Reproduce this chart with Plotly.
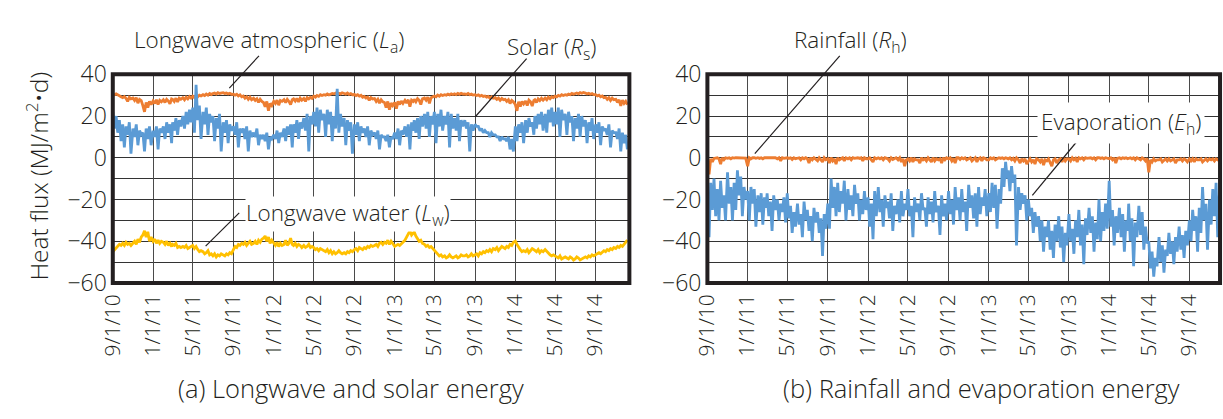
import plotly.graph_objects as go
import pandas as pd

# ---------------- data (6 samples per month: days 1,6,11,16,21,26) ----------------
month_starts = pd.date_range("2010-09-01", "2014-12-01", freq="MS")
day_offsets = [0, 5, 10, 15, 20, 25]

tick_dates = ["2010-09-01", "2011-01-01", "2011-05-01", "2011-09-01", "2012-01-01",
              "2012-05-01", "2012-09-01", "2013-01-01", "2013-05-01", "2013-09-01",
              "2014-01-01", "2014-05-01", "2014-09-01"]
tick_text = ["9/1/10", "1/1/11", "5/1/11", "9/1/11", "1/1/12", "5/1/12", "9/1/12",
             "1/1/13", "5/1/13", "9/1/13", "1/1/14", "5/1/14", "9/1/14"]

# Longwave atmospheric (La)
la_vals = [
    30.5, 30.2, 30.6, 30.0, 29.5, 29.2,   # Sep10
    28.8, 29.3, 28.5, 27.0, 28.9, 28.2,   # Oct10
    28.6, 27.5, 28.8, 26.2, 28.0, 27.4,   # Nov10
    25.0, 22.0, 26.5, 24.0, 27.0, 25.5,   # Dec10
    27.2, 26.0, 27.8, 25.5, 27.5, 26.8,   # Jan11
    27.8, 26.5, 28.0, 27.2, 25.8, 28.2,   # Feb11
    28.0, 27.0, 28.5, 26.8, 28.6, 28.0,   # Mar11
    28.8, 27.8, 29.0, 28.2, 29.3, 28.6,   # Apr11
    29.5, 28.8, 29.8, 29.2, 30.0, 29.6,   # May11
    30.2, 29.8, 30.5, 30.0, 30.8, 30.3,   # Jun11
    30.8, 31.0, 30.5, 31.2, 30.8, 31.0,   # Jul11
    31.2, 30.8, 31.0, 30.6, 30.9, 30.4,   # Aug11
    30.5, 30.0, 30.4, 29.6, 30.1, 29.2,   # Sep11
    29.6, 28.5, 29.2, 28.0, 29.0, 27.8,   # Oct11
    28.5, 27.5, 28.2, 26.5, 28.0, 27.0,   # Nov11
    26.5, 24.5, 27.0, 22.5, 26.0, 25.0,   # Dec11
    27.0, 26.0, 27.6, 25.2, 27.4, 27.0,   # Jan12
    27.8, 26.4, 28.0, 27.0, 25.5, 27.8,   # Feb12
    28.2, 27.2, 28.4, 26.8, 28.6, 27.6,   # Mar12
    28.4, 27.0, 28.8, 28.2, 29.0, 28.5,   # Apr12
    29.5, 29.0, 29.8, 29.4, 30.2, 29.8,   # May12
    30.2, 30.0, 30.6, 30.1, 30.4, 30.8,   # Jun12
    30.6, 31.0, 30.4, 30.9, 30.6, 31.1,   # Jul12
    30.8, 30.5, 31.0, 30.4, 30.7, 30.2,   # Aug12
    30.3, 29.8, 30.2, 29.5, 29.9, 29.0,   # Sep12
    29.4, 28.6, 29.0, 27.5, 28.8, 28.2,   # Oct12
    28.4, 27.0, 28.0, 26.2, 27.8, 26.8,   # Nov12
    26.5, 24.0, 27.0, 23.0, 26.2, 25.0,   # Dec12
    26.5, 23.5, 27.0, 25.5, 27.2, 26.0,   # Jan13
    27.5, 26.2, 27.8, 24.5, 27.6, 27.0,   # Feb13
    28.0, 26.8, 28.3, 27.5, 25.5, 28.2,   # Mar13
    28.6, 27.6, 29.0, 26.0, 28.8, 29.2,   # Apr13
    29.6, 29.2, 30.0, 29.5, 30.2, 29.8,   # May13
    30.2, 30.0, 30.5, 30.1, 30.6, 30.3,   # Jun13
    30.6, 30.2, 30.8, 30.4, 30.9, 30.5,   # Jul13
    30.6, 30.3, 30.8, 30.2, 30.5, 30.0,   # Aug13
    30.2, 29.8, 30.1, 29.5, 29.9, 29.4,   # Sep13
    29.6, 29.0, 29.4, 28.6, 29.2, 28.5,   # Oct13
    28.8, 28.0, 28.6, 27.5, 28.4, 27.8,   # Nov13
    28.0, 27.0, 27.8, 26.0, 27.5, 26.8,   # Dec13
    25.5, 22.5, 26.8, 24.5, 27.0, 25.8,   # Jan14
    27.2, 25.0, 27.6, 26.8, 24.8, 27.5,   # Feb14
    27.8, 26.5, 28.2, 27.4, 28.5, 27.6,   # Mar14
    28.6, 27.8, 29.0, 28.3, 29.2, 28.8,   # Apr14
    29.5, 29.2, 29.9, 29.5, 30.2, 29.8,   # May14
    30.2, 30.0, 30.5, 30.2, 30.8, 30.4,   # Jun14
    30.8, 31.0, 30.6, 31.2, 30.9, 31.3,   # Jul14
    31.0, 30.6, 30.9, 30.4, 30.7, 30.2,   # Aug14
    30.2, 29.6, 30.0, 29.2, 29.6, 28.8,   # Sep14
    29.0, 28.0, 28.8, 27.5, 28.6, 27.8,   # Oct14
    28.0, 26.5, 27.8, 24.8, 27.6, 26.0,   # Nov14
    27.0, 25.5,                           # Dec14
]

# Solar (Rs)
rs_vals = [
    22, 14, 20, 12, 18, 8,     # Sep10
    16, 5, 15, 11, 17, 2,      # Oct10
    14, 10, 16, 6, 13, 11,     # Nov10
    12, 3, 14, 9, 15, 6,       # Dec10
    13, 10, 15, 4, 14, 12,     # Jan11
    15, 9, 17, 12, 16, 7,      # Feb11
    17, 13, 19, 11, 18, 15,    # Mar11
    20, 14, 22, 16, 23, 17,    # Apr11
    24, 12, 35, 18, 25, 9,     # May11
    22, 16, 24, 11, 21, 17,    # Jun11
    20, 8, 19, 14, 21, 3,      # Jul11
    17, 12, 18, 7, 16, 13,     # Aug11
    15, 11, 17, 5, 14, 12,     # Sep11
    14, 9, 15, 3, 13, 10,      # Oct11
    12, 10, 14, 6, 11, 9,      # Nov11
    11, 8, 12, 4, 10, 9,       # Dec11
    11, 9, 13, 7, 12, 10,      # Jan12
    14, 8, 15, 11, 16, 5,      # Feb12
    16, 12, 18, 9, 17, 14,     # Mar12
    19, 13, 21, 3, 20, 16,     # Apr12
    22, 15, 24, 12, 23, 18,    # May12
    21, 10, 23, 16, 22, 8,     # Jun12
    20, 14, 33, 12, 21, 15,    # Jul12
    19, 6, 18, 13, 17, 2,      # Aug12
    16, 11, 17, 8, 15, 12,     # Sep12
    14, 10, 15, 6, 13, 11,     # Oct12
    12, 9, 13, 4, 11, 10,      # Nov12
    10, 8, 11, 5, 10, 9,       # Dec12
    12, 9, 14, 6, 13, 11,      # Jan13
    15, 10, 16, 4, 17, 13,     # Feb13
    18, 12, 19, 9, 20, 15,     # Mar13
    21, 14, 22, 10, 20, 16,    # Apr13
    22, 7, 21, 15, 23, 13,     # May13
    20, 16, 22, 5, 21, 14,     # Jun13
    19, 13, 21, 8, 18, 15,     # Jul13
    18, 14, 17, 3, 16, 13,     # Aug13
    16, 15, 15, 13, 14, 12,    # Sep13
    13, 12, 12, 10, 12, 11,    # Oct13
    11, 10, 10, 8, 10, 9,      # Nov13
    9, 8, 10, 4, 9, 3,         # Dec13
    15, 8, 16, 12, 17, 7,      # Jan14
    18, 12, 19, 15, 17, 11,    # Feb14
    20, 14, 21, 16, 22, 13,    # Mar14
    21, 12, 23, 17, 24, 15,    # Apr14
    22, 16, 24, 10, 23, 18,    # May14
    21, 11, 22, 17, 20, 8,     # Jun14
    19, 14, 21, 10, 20, 15,    # Jul14
    18, 7, 17, 13, 19, 9,      # Aug14
    16, 12, 17, 6, 15, 13,     # Sep14
    14, 11, 16, 5, 13, 12,     # Oct14
    12, 9, 14, 3, 12, 7,       # Nov14
    11, 4,                     # Dec14
]

# Longwave water (Lw)
lw_vals = [
    -45, -44, -43, -42, -41.5, -42,          # Sep10
    -41, -42, -40.5, -41.5, -41, -42,        # Oct10
    -41, -40, -41.5, -39, -40.5, -38,        # Nov10
    -37, -35, -38, -35.5, -40, -38,          # Dec10
    -40, -39, -41, -39.5, -41, -40,          # Jan11
    -40.5, -41.5, -40, -42, -41, -42.5,      # Feb11
    -41.5, -42, -41, -43, -42.5, -43,        # Mar11
    -42.5, -43, -42, -43.5, -43, -42.5,      # Apr11
    -42, -43.5, -42.5, -44, -45, -44.5,      # May11
    -45, -46, -45.5, -44.5, -46.5, -46,      # Jun11
    -47, -46, -47.5, -46.5, -47, -46,        # Jul11
    -46.5, -47, -46, -46.5, -45.5, -46,      # Aug11
    -44, -42.5, -43, -41.5, -42, -41,        # Sep11
    -41.5, -40.5, -42, -41, -40, -41.5,      # Oct11
    -41, -40, -41.5, -39.5, -40.5, -39,      # Nov11
    -38.5, -37.5, -40, -38, -41, -39.5,      # Dec11
    -41, -42, -40.5, -42.5, -41, -42,        # Jan12
    -41.5, -39.5, -42, -41, -38.5, -41.5,    # Feb12
    -42, -41, -42.5, -41.5, -42, -43,        # Mar12
    -42, -43, -42.5, -41.5, -43, -42.5,      # Apr12
    -43, -44, -43.5, -44.5, -43.5, -44,      # May12
    -44.5, -45, -44, -45.5, -44.5, -46,      # Jun12
    -45, -46, -45.5, -44.5, -45.5, -46,      # Jul12
    -45.5, -46, -45, -45.5, -44.5, -45,      # Aug12
    -44, -43.5, -44.5, -43, -43.5, -44,      # Sep12
    -43, -43.5, -42.5, -43, -42, -42.5,      # Oct12
    -42, -41.5, -42.5, -41, -40.5, -41.5,    # Nov12
    -40.5, -41, -39.5, -41.5, -40, -41,      # Dec12
    -42.5, -42, -41.5, -42, -41, -40.5,      # Jan13
    -39.5, -38, -36.5, -35, -37, -36,        # Feb13
    -35.5, -37.5, -38.5, -40, -39.5, -41,    # Mar13
    -41.5, -42.5, -42, -43, -42.5, -43.5,    # Apr13
    -44, -45.5, -46, -47, -46.5, -47.5,      # May13
    -47, -48, -47.5, -46.5, -47.5, -48,      # Jun13
    -47.5, -47, -48, -47.5, -46.5, -47,      # Jul13
    -47, -46.5, -47.5, -47, -46, -47,        # Aug13
    -46.5, -46, -47, -45.5, -46, -45,        # Sep13
    -45.5, -44.5, -45, -44, -45, -43.5,      # Oct13
    -44, -43, -44.5, -43.5, -42.5, -43,      # Nov13
    -43.5, -42.5, -43, -41.5, -42, -40.5,    # Dec13
    -40, -41.5, -43, -44, -45, -44.5,        # Jan14
    -45, -44, -45.5, -44.5, -43.5, -44,      # Feb14
    -44.5, -45, -44, -45.5, -44.5, -45,      # Mar14
    -44, -45, -45.5, -46.5, -47, -46.5,      # Apr14
    -47, -47.5, -48, -47, -48.5, -48,        # May14
    -47.5, -48, -48.5, -47.5, -48, -49,      # Jun14
    -48.5, -47.5, -48, -49, -48.5, -48,      # Jul14
    -47.5, -48, -47, -47.5, -46.5, -47,      # Aug14
    -46.5, -46, -45.5, -46, -45, -44.5,      # Sep14
    -45, -44, -44.5, -43.5, -44, -43,        # Oct14
    -43.5, -42.5, -43, -42, -42.5, -41.5,    # Nov14
    -41, -39.5,                              # Dec14
]

# Rainfall (Rh)
rh_vals = [
    -1, -8, -0.5, -2, -0.3, 0,          # Sep10
    0, -0.5, -3, 0, -1, 0,              # Oct10
    -0.3, 0, -0.5, 0, -0.2, 0,          # Nov10
    0, 0, -0.3, 0, 0, -0.2,             # Dec10
    -4, 0, -0.5, 0, 0, -0.3,            # Jan11
    0, -0.3, 0, -0.5, 0, 0,             # Feb11
    0, -0.2, 0, 0, -0.3, 0,             # Mar11
    -0.5, 0, -1.5, 0, -0.3, 0,          # Apr11
    0, -0.3, 0, -0.8, 0, -0.5,          # May11
    -0.3, 0, -1, 0, -0.5, 0,            # Jun11
    -0.5, -2.5, 0, -1, 0, -0.5,         # Jul11
    -1.5, 0, -0.8, -2, 0, -1,           # Aug11
    -0.5, -2.5, 0, -1.5, -0.5, -3,      # Sep11
    0, -1, -0.5, 0, -1.5, 0,            # Oct11
    -0.5, 0, -1, 0, -0.3, 0,            # Nov11
    0, -0.3, 0, -1.5, 0, -0.5,          # Dec11
    -0.5, 0, -0.8, -2, 0, -0.5,         # Jan12
    0, -0.5, 0, -1, 0, -0.3,            # Feb12
    -0.5, -1.5, 0, -0.8, -0.3, 0,       # Mar12
    -1, 0, -2, -0.5, -4, -1,            # Apr12
    -0.5, -1.5, 0, -2, -0.5, -1,        # May12
    -1, -2.5, 0, -1, -0.5, -1.5,        # Jun12
    0, -1, -2, 0, -1.5, -0.5,           # Jul12
    -1, -0.5, -2.5, 0, -1, 0,           # Aug12
    -0.5, 0, -1.5, -0.3, -2.5, 0,       # Sep12
    0, -0.8, 0, -0.5, 0, -1,            # Oct12
    -0.3, 0, -1.5, -0.5, 0, -2,         # Nov12
    -0.5, 0, -1.5, 0, -0.3, -1,         # Dec12
    -1, 0, -0.5, 0, -1, -0.5,           # Jan13
    0, -0.3, 0, -0.5, 0, -0.3,          # Feb13
    -0.5, 0, -1, -0.3, -1.5, 0,         # Mar13
    -1, -2.5, -0.5, -1.5, -0.5, -3,     # Apr13
    -1.5, -0.5, -2, -1, -3, -0.5,       # May13
    -1, -2, -0.5, -3.5, -1, -1.5,       # Jun13
    -0.5, -2, -4, -1, -0.5, -2.5,       # Jul13
    -1, -0.5, -2, 0, -1.5, -0.5,        # Aug13
    -0.5, -1.5, 0, -1, -0.3, -2,        # Sep13
    0, -0.5, 0, -1, 0, -0.3,            # Oct13
    -0.3, 0, -0.5, 0, -1, 0,            # Nov13
    0, -0.3, 0, -0.5, 0, -0.3,          # Dec13
    -0.5, 0, -1, 0, -2.5, -0.3,         # Jan14
    0, -0.5, 0, -0.3, 0, -0.5,          # Feb14
    -0.3, 0, -0.5, 0, -1, 0,            # Mar14
    -0.5, -1, 0, -0.5, -1.5, -0.3,      # Apr14
    -7, -1, -2, -0.5, -1.5, -1,         # May14
    -1, -0.5, -2, -1, -0.5, -1.5,       # Jun14
    -0.5, -1.5, -1, -0.5, -2.5, -1,     # Jul14
    -1, -0.5, -1.5, -0.5, -1, -2,       # Aug14
    -0.5, -1.5, -0.5, -2, -0.5, -1,     # Sep14
    -1, -0.5, -2, -1, -0.5, -1.5,       # Oct14
    -0.5, -1, -0.5, -1.5, -0.5, -1,     # Nov14
    -0.5, -1,                           # Dec14
]

# Evaporation (Eh)
eh_vals = [
    -18, -38, -12, -25, -10, -28,   # Sep10
    -15, -30, -11, -24, -18, -30,   # Oct10
    -7, -22, -14, -30, -12, -25,    # Nov10
    -6, -18, -9, -28, -14, -20,     # Dec10
    -16, -30, -14, -22, -15, -33,   # Jan11
    -18, -26, -17, -32, -19, -24,   # Feb11
    -17, -28, -21, -35, -18, -25,   # Mar11
    -20, -30, -22, -26, -19, -31,   # Apr11
    -17, -29, -23, -36, -26, -33,   # May11
    -22, -32, -27, -38, -21, -30,   # Jun11
    -25, -35, -28, -40, -24, -31,   # Jul11
    -26, -36, -29, -47, -27, -34,   # Aug11
    -22, -34, -10, -24, -14, -28,   # Sep11
    -12, -26, -16, -22, -11, -30,   # Oct11
    -15, -25, -18, -28, -13, -22,   # Nov11
    -17, -30, -20, -27, -16, -25,   # Dec11
    -19, -33, -22, -39, -16, -28,   # Jan12
    -14, -26, -20, -33, -18, -24,   # Feb12
    -21, -29, -17, -35, -23, -27,   # Mar12
    -20, -31, -16, -28, -22, -25,   # Apr12
    -15, -28, -23, -38, -19, -26,   # May12
    -22, -30, -17, -25, -24, -33,   # Jun12
    -19, -27, -21, -31, -16, -26,   # Jul12
    -23, -37, -18, -28, -22, -30,   # Aug12
    -16, -27, -20, -32, -14, -25,   # Sep12
    -19, -30, -15, -26, -21, -35,   # Oct12
    -13, -24, -18, -29, -17, -33,   # Nov12
    -14, -27, -19, -23, -15, -28,   # Dec12
    -17, -26, -12, -24, -13, -34,   # Jan13
    -15, -22, -5, -14, -2, -10,     # Feb13
    -6, -16, -4, -12, -8, -42,      # Mar13
    -14, -25, -17, -22, -18, -30,   # Apr13
    -20, -28, -24, -36, -26, -33,   # May13
    -28, -40, -30, -45, -33, -38,   # Jun13
    -30, -44, -35, -48, -32, -40,   # Jul13
    -28, -43, -33, -50, -36, -42,   # Aug13
    -27, -40, -34, -46, -30, -38,   # Sep13
    -25, -42, -32, -51, -29, -37,   # Oct13
    -24, -36, -28, -45, -31, -39,   # Nov13
    -20, -40, -26, -35, -22, -34,   # Dec13
    -11, -33, -25, -42, -28, -36,   # Jan14
    -24, -38, -27, -45, -30, -35,   # Feb14
    -22, -40, -29, -52, -31, -38,   # Mar14
    -23, -37, -26, -44, -33, -41,   # Apr14
    -40, -53, -45, -57, -48, -52,   # May14
    -38, -50, -42, -55, -44, -47,   # Jun14
    -36, -46, -40, -51, -38, -45,   # Jul14
    -33, -44, -37, -48, -35, -42,   # Aug14
    -30, -40, -25, -35, -28, -45,   # Sep14
    -24, -36, -14, -30, -22, -44,   # Oct14
    -20, -32, -15, -28, -12, -38,   # Nov14
    -18, -30,                       # Dec14
]

dates = [m + pd.Timedelta(days=o) for m in month_starts for o in day_offsets]

# ---------------- figure ----------------
W, H = 1223, 419
FONT = "Open Sans"
TXT = "#231f20"
ORANGE = "#ED7D31"
BLUE = "#5B9BD5"
YELLOW = "#FFC000"
WEIGHT = 300


def px(x):
    return x / W


def py(y):
    return 1 - y / H


def fnt(size):
    return dict(family=FONT, size=size, color=TXT, weight=WEIGHT)


fig = go.Figure()


def add(vals, color, xa, ya):
    fig.add_trace(go.Scatter(x=dates[:len(vals)], y=vals, mode="lines",
                             line=dict(color=color, width=2.8),
                             xaxis=xa, yaxis=ya, showlegend=False,
                             hoverinfo="skip"))


add(la_vals, ORANGE, "x", "y")
add(rs_vals, BLUE, "x", "y")
add(lw_vals, YELLOW, "x", "y")
add(eh_vals, BLUE, "x2", "y2")
add(rh_vals, ORANGE, "x2", "y2")

xcommon = dict(tickmode="array", tickvals=tick_dates, ticktext=tick_text,
               tickangle=-90, showgrid=True, gridcolor="#4a4a4a", gridwidth=1.2,
               zeroline=False, showline=False, ticks="", ticklabelstandoff=6,
               tickfont=fnt(21))
ycommon = dict(range=[-60, 40], tickmode="linear", tick0=-60, dtick=20,
               showgrid=True, gridcolor="#333333", gridwidth=1.2,
               minor=dict(dtick=10, tick0=-60, showgrid=True, gridcolor="#333333", gridwidth=1.2),
               zeroline=False, showline=False, ticks="", ticklabelstandoff=5,
               tickfont=fnt(23))

ydom = [py(288), py(62)]
fig.update_layout(
    width=W, height=H, margin=dict(l=0, r=0, t=0, b=0), autosize=False,
    paper_bgcolor="white", plot_bgcolor="white",
    xaxis=dict(domain=[px(99), px(622)], range=["2010-09-01", "2014-12-12"], anchor="y", **xcommon),
    yaxis=dict(domain=ydom, anchor="x", **ycommon),
    xaxis2=dict(domain=[px(701), px(1220)], range=["2010-09-01", "2014-12-03"], anchor="y2", **xcommon),
    yaxis2=dict(domain=ydom, anchor="x2", **ycommon),
)

# thick plot borders
for xr, yr in (("x domain", "y domain"), ("x2 domain", "y2 domain")):
    fig.add_shape(type="rect", xref=xr, yref=yr, x0=0, x1=1, y0=0, y1=1,
                  line=dict(color=TXT, width=4), layer="above")

# leader lines (paper pixel coordinates)
leaders = [((247, 42), (217, 77)),
           ((518, 45), (466, 108)),
           ((227, 212), (193, 248)),
           ((835, 42), (749, 148)),
           ((1078, 131), (1030, 193))]
for (x0, y0), (x1, y1) in leaders:
    fig.add_shape(type="line", xref="paper", yref="paper",
                  x0=px(x0), y0=py(y0), x1=px(x1), y1=py(y1),
                  line=dict(color=TXT, width=1.2), layer="above")

labels = [
    ("Longwave atmospheric (<i>L</i><sub>a</sub>)", 257, 26, False, 0),
    ("Solar (<i>R</i><sub>s</sub>)", 543, 34, False, 0),
    ("Longwave water (<i>L</i><sub>w</sub>)", 337, 213, True, 0),
    ("Rainfall (<i>R</i><sub>h</sub>)", 846, 26, False, 0),
    ("Evaporation (<i>E</i><sub>h</sub>)", 1120, 115, True, 3),
]
for text, x, y, box, pad in labels:
    fig.add_annotation(text=text, x=px(x), y=py(y), xref="paper", yref="paper",
                       showarrow=False, xanchor="center", yanchor="middle",
                       font=fnt(22.5),
                       bgcolor="white" if box else None, borderpad=pad)

fig.add_annotation(text="Heat flux (MJ/m<sup>2</sup>•d)", x=px(23), y=py(172),
                   xref="paper", yref="paper", showarrow=False, textangle=-90,
                   xanchor="center", yanchor="middle", font=fnt(24.5))
fig.add_annotation(text="(a) Longwave and solar energy", x=px(340), y=py(402),
                   xref="paper", yref="paper", showarrow=False,
                   xanchor="center", yanchor="middle", font=fnt(25.5))
fig.add_annotation(text="(b) Rainfall and evaporation energy", x=px(978), y=py(402),
                   xref="paper", yref="paper", showarrow=False,
                   xanchor="center", yanchor="middle", font=fnt(25.5))

fig.write_html("out.html")
